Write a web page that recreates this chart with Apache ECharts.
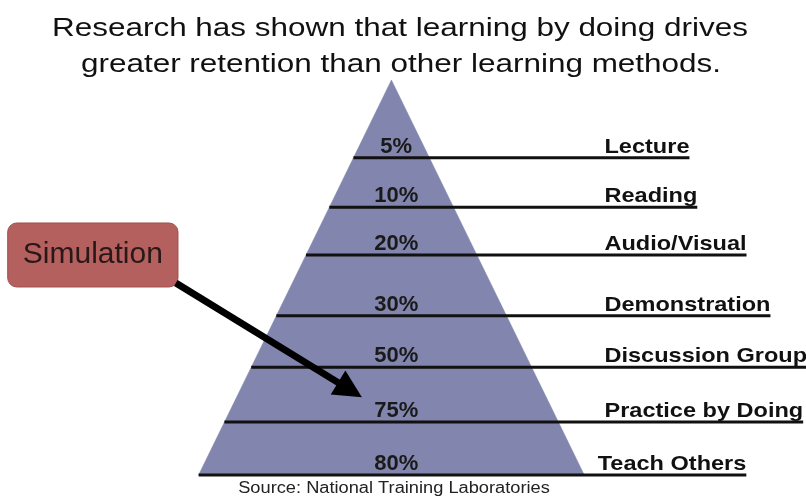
<!DOCTYPE html>
<html>
<head>
<meta charset="utf-8" />
<title>Learning Pyramid</title>
<script src="https://cdn.jsdelivr.net/npm/echarts@6/dist/echarts.min.js"></script>
<style>
html, body { margin: 0; padding: 0; background: #fff; }
#main { width: 806px; height: 500px; }
</style>
</head>
<body>
<div id="main"></div>
<script type="text/javascript">
/* values */
var methods = ['Lecture', 'Reading', 'Audio/Visual', 'Demonstration', 'Discussion Group', 'Practice by Doing', 'Teach Others'];
var retention = [5, 10, 20, 30, 50, 75, 80];
/* lower edge of every band, in % of the pyramid height measured from the apex */
var bandBottom = [19.7, 32.2, 44.3, 59.7, 72.7, 86.6, 100];

var FONT = '"Liberation Sans", Arial, Helvetica, sans-serif';
var LABEL_FONT = 'bold 21px ' + FONT;
var LABEL_SCALE = 1.12;   /* the reference text is a bit stretched sideways */

/* callout, in axis units */
var callout = {
    text: 'Simulation',
    box: [[-199, 36.2], [-110.7, 52.4]],
    from: [-111.8, 51.4],
    to: [-15.3, 80.3]
};

var measureCtx = document.createElement('canvas').getContext('2d');
function textWidth(text, font) {
    measureCtx.font = font;
    return measureCtx.measureText(text).width;
}

/* one band of the pyramid: trapezoid + rule line + labels */
function renderBand(params, api) {
    var i = api.value(0);
    var top = i === 0 ? 0 : bandBottom[i - 1];
    var bottom = bandBottom[i];
    /* half width of the pyramid equals the depth (base half width = 100) */
    var pTL = api.coord([-top, top]);
    var pTR = api.coord([top, top]);
    var pBR = api.coord([bottom, bottom]);
    var pBL = api.coord([-bottom, bottom]);
    var pct = api.coord([2.5, bottom]);
    var lab = api.coord([i === methods.length - 1 ? 107 : 110.5, bottom]);
    var endX = lab[0] + textWidth(methods[i], LABEL_FONT) * LABEL_SCALE;
    return {
        type: 'group',
        children: [
            {
                type: 'polygon', z2: 1,
                shape: { points: [pTL, pTR, pBR, pBL] },
                style: { fill: '#8285ad', stroke: '#8285ad', lineWidth: 0.5 }
            },
            {
                type: 'line', z2: 10,
                shape: { x1: pBL[0], y1: pBL[1], x2: endX, y2: pBL[1] },
                style: { stroke: '#111', lineWidth: 3 }
            },
            {
                type: 'text', z2: 20,
                x: pct[0], y: pct[1] - 11,
                style: { text: retention[i] + '%', font: 'bold 22px ' + FONT, fill: '#1a1a1a', align: 'center', verticalAlign: 'middle' }
            },
            {
                type: 'text', z2: 20,
                x: lab[0], y: lab[1] - 11, scaleX: LABEL_SCALE,
                style: { text: methods[i], font: LABEL_FONT, fill: '#111', align: 'left', verticalAlign: 'middle' }
            }
        ]
    };
}

function renderCallout(params, api) {
    var a = api.coord(callout.box[0]);
    var b = api.coord(callout.box[1]);
    var p0 = api.coord(callout.from);
    var p1 = api.coord(callout.to);
    var dx = p1[0] - p0[0], dy = p1[1] - p0[1];
    var len = Math.sqrt(dx * dx + dy * dy);
    var ux = dx / len, uy = dy / len;
    var nx = -uy, ny = ux;
    var headLen = 28, headHalf = 14;
    var bx = p1[0] - ux * headLen, by = p1[1] - uy * headLen;
    return {
        type: 'group',
        children: [
            {
                type: 'rect', z2: 30,
                shape: { x: a[0], y: a[1], width: b[0] - a[0], height: b[1] - a[1], r: 9 },
                style: { fill: '#b4605e', stroke: '#a04e4c', lineWidth: 1 }
            },
            {
                type: 'text', z2: 31,
                x: (a[0] + b[0]) / 2, y: (a[1] + b[1]) / 2,
                style: { text: callout.text, font: '30px ' + FONT, fill: '#2a1717', align: 'center', verticalAlign: 'middle' }
            },
            {
                type: 'line', z2: 32,
                shape: { x1: p0[0], y1: p0[1], x2: bx + ux * 4, y2: by + uy * 4 },
                style: { stroke: '#000', lineWidth: 7 }
            },
            {
                type: 'polygon', z2: 32,
                shape: { points: [p1, [bx + nx * headHalf, by + ny * headHalf], [bx - nx * headHalf, by - ny * headHalf]] },
                style: { fill: '#000' }
            }
        ]
    };
}

var chart = echarts.init(document.getElementById('main'));
var option = {
    animation: false,
    backgroundColor: '#fff',
    grid: { left: 0, right: 0, top: 80, bottom: 25 },
    xAxis: { type: 'value', min: -203, max: 215, show: false },
    yAxis: { type: 'value', min: 0, max: 100, inverse: true, show: false },
    graphic: [
        {
            type: 'text', x: 400, y: 29, scaleX: 1.21,
            style: { text: 'Research has shown that learning by doing drives', font: '26px ' + FONT, fill: '#111', align: 'center', verticalAlign: 'middle' }
        },
        {
            type: 'text', x: 401, y: 65, scaleX: 1.21,
            style: { text: 'greater retention than other learning methods.', font: '26px ' + FONT, fill: '#111', align: 'center', verticalAlign: 'middle' }
        },
        {
            type: 'text', x: 394, y: 489, scaleX: 1.14,
            style: { text: 'Source: National Training Laboratories', font: '16px ' + FONT, fill: '#222', align: 'center', verticalAlign: 'middle' }
        }
    ],
    series: [
        {
            type: 'custom',
            name: 'Retention',
            renderItem: renderBand,
            data: methods.map(function (m, i) { return [i, bandBottom[i]]; })
        },
        {
            type: 'custom',
            name: 'Callout',
            renderItem: renderCallout,
            data: [[0, 0]]
        }
    ]
};
chart.setOption(option);
window.onresize = chart.resize;
</script>
</body>
</html>
